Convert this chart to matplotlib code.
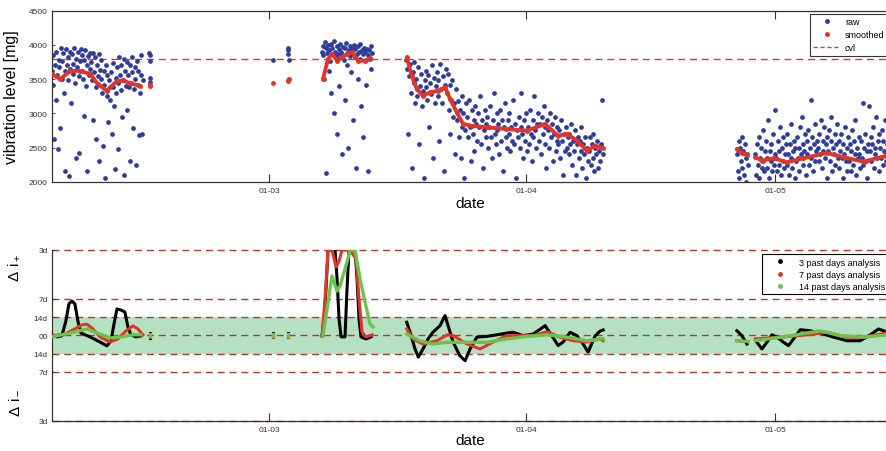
import numpy as np
import pandas as pd
import matplotlib
matplotlib.use('Agg')
import matplotlib.pyplot as plt
import matplotlib.dates as mdates
from matplotlib.lines import Line2D

plt.rcParams['font.family'] = ['Liberation Sans', 'DejaVu Sans']

# time axis: days counted from 01-03
day0 = '2013-03-01'
x_range = (-26.2, 77.5)

# raw vibration level [mg], evenly sampled within each recording span (days)
raw_spans = [(-26.2, -15.25), (-14.45, -14.35), (0.45, 0.45), (2.2, 2.35),
             (6.36, 12.39), (16.5, 40.2), (56.4, 57.7), (58.6, 75.0)]
raw_1 = [3620, 3850, 3420, 2620, 3710, 3900, 3200, 3560, 2480, 3780, 3680, 2780, 3950, 3500,
         3760, 3880, 3300, 3620, 2150, 3940, 3700, 3480, 3820, 2080, 3650, 3900, 3150,
         3860, 3580, 3720, 3960, 3450, 2340, 3800, 3680, 3900, 3540, 2420, 3760, 3940,
         3620, 3850, 3500, 2960, 3780, 3920, 3400, 3700, 2160, 3840, 3560, 3650, 3880,
         3750, 3480, 3880, 2900, 3600, 3820, 3380, 2620, 3700, 3540, 3860, 2300, 3640,
         3500, 3780, 3300, 2520, 3620, 3420, 2060, 3700, 3260, 3560, 2880, 3480, 3380,
         3200, 3600, 2700, 3380, 3740, 3100, 2180, 3520, 3300, 3680, 2480, 3450, 3820,
         3560, 3340, 3700, 2950, 3480, 3800, 2100, 3620, 3400, 3750, 3050, 3560, 3380,
         3700, 2300, 3450, 3820, 3600, 2780, 3350, 3680, 3500, 2240, 3760, 3420, 3620,
         2680, 3300, 3560, 3850, 2700, 3480]
raw_1b = [3880, 3850, 3760, 3520, 3460]
raw_2a = [3780]
raw_2b = [3960, 3920, 3870, 3780]
raw_3 = [3900, 3980, 3850, 3500, 4040, 3950, 2120, 3880, 4000, 3620, 3920, 3760, 4020, 3300,
         3960, 3870, 3000, 4050, 3900, 3820, 2700, 3980, 3860, 3940, 3400, 4010, 3900, 2400,
         3850, 3970, 3780, 3200, 3950, 4030, 3880, 3700, 2500, 3920, 3990, 3840, 3600, 3960,
         3880, 2900, 4000, 3820, 3940, 2200, 3870, 3980, 3500, 3900, 3800, 4020, 3100, 3930,
         3860, 2650, 3960, 3890, 3780, 3420, 3940, 3850, 2150, 3920, 3800, 3980, 3650, 3880]
raw_4 = [3780, 3650, 2700, 3540, 3720, 3300, 2200, 3600, 3450, 3750, 3150,
         3500, 3250, 3680, 2550, 3400, 3580, 3100, 3320, 2050, 3480, 3620,
         3380, 3200, 3560, 2800, 3450, 3280, 3700, 2350, 3520, 3150, 3400,
         3600, 3250, 3480, 2600, 3720, 3350, 3150, 3550, 2150, 3420, 3650,
         3300, 3580, 3050, 3420, 2700, 3200, 3480, 2950, 3150, 2400, 3350,
         2900, 3180, 2650, 3050, 2350, 3250, 2800, 3000, 2050, 2750, 3150,
         2950, 2650, 3200, 2800, 2300, 3050, 2700, 2900, 2450, 3100, 2850,
         2600, 3000, 2800, 3250, 2550, 2900, 2200, 2750, 3050, 2650, 2850,
         2950, 2500, 2800, 3100, 2650, 2350, 2900, 3300, 2700, 2550, 3000,
         2750, 2850, 2400, 3050, 2600, 2900, 2150, 2800, 3150, 2650, 2500,
         2900, 2700, 3000, 2450, 2800, 2600, 3200, 2550, 2850, 2050, 2750,
         2650, 2950, 2500, 2800, 3300, 2700, 2350, 2900, 2600, 3000, 2450,
         2800, 2550, 3050, 2700, 2300, 2900, 2650, 3250, 2750, 2500, 2850,
         3000, 2600, 2850, 2400, 2950, 2700, 3100, 2550, 2800, 2200, 2900,
         2750, 2500, 3000, 2650, 2850, 2300, 2700, 2950, 2450, 2600, 2800,
         2550, 2750, 2350, 2900, 2600, 2100, 2700, 2450, 2800, 2500, 2650,
         2400, 2700, 2550, 2850, 2250, 2600, 2450, 2750, 2100, 2550, 2650,
         2350, 2600, 2450, 2800, 2200, 2550, 2400, 2650, 2050, 2500, 2300,
         2450, 2650, 2250, 2550, 2350, 2700, 2150, 2500, 2400, 2600, 2200,
         2450, 2300, 2550, 3200, 2400]
raw_5 = [2400, 2150, 2600, 2050, 2500, 2300, 2650, 2200, 2450, 2100, 2550, 2350, 2000, 2400, 2250]
raw_6 = [2400, 2100, 2550, 2250, 2650, 2050, 2350, 2500, 2200, 2750, 2300, 2150, 2450,
         2600, 2200, 2350, 2900, 2050, 2450, 2300, 2550, 2150, 2700, 2250, 2400, 3050,
         2350, 2150, 2600, 2250, 2450, 2800, 2100, 2500, 2300, 2650, 2200, 2400, 2550,
         2250, 2700, 2400, 2100, 2550, 2350, 2850, 2200, 2450, 2600, 2050, 2500, 2300,
         2650, 2350, 2500, 2150, 2800, 2400, 2950, 2250, 2550, 2450, 2700, 2100, 2600,
         2400, 2750, 2250, 2500, 3200, 2350, 2650, 2150, 2550, 2850, 2300, 2450, 2600,
         2500, 2300, 2700, 2400, 2900, 2200, 2600, 2450, 2800, 2350, 2550, 2050, 2650,
         2450, 2750, 2300, 2600, 2950, 2150, 2500, 2400, 2700, 2250, 2550, 2850, 2350,
         2600, 2200, 2450, 2700, 2350, 2550, 2050, 2400, 2800, 2300, 2500, 2150, 2650,
         2300, 2550, 2150, 2450, 2750, 2250, 2600, 2400, 2900, 2100, 2500, 2350, 2650,
         2400, 2200, 2600, 2350, 3150, 2250, 2500, 2700, 2300, 2450, 2050, 2550, 3100,
         2450, 2650, 2300, 2550, 2800, 2200, 2500, 2400, 2950, 2350, 2600, 2150, 2700,
         2500, 2350, 2750, 2250, 2600, 2450, 2900, 2300, 2550, 2400, 2850, 2200, 2650, 2500, 2350]
raw_values = [raw_1, raw_1b, raw_2a, raw_2b, raw_3, raw_4, raw_5, raw_6]

# smoothed level [mg]
sm_days = [[-26.2, -25.2, -24.0, -22.8, -21.6, -20.7, -19.6, -18.4, -17.6, -16.8, -15.6],
           [-14.4, -14.35], [0.45], [2.25, 2.38],
           [6.47, 7.08, 7.56, 8.17, 8.77, 9.37, 9.98, 10.7, 11.5, 12.15],
           [16.57, 17.18, 17.78, 18.54, 19.39, 20.35, 21.2, 21.8, 22.6, 23.37, 24.4,
            26.2, 28.6, 31.05, 33.26, 34.8, 35.9, 37.1, 38.3, 39.3, 40.25],
           [56.38, 56.98, 57.59],
           [58.59, 59.4, 60.8, 62.4, 64.4, 67.24, 69.24, 71.65, 74.4, 75.1]]
sm_vals = [[3570, 3500, 3620, 3620, 3575, 3430, 3330, 3470, 3480, 3440, 3400],
           [3420, 3400], [3438], [3477, 3500],
           [3500, 3794, 3867, 3769, 3818, 3867, 3891, 3769, 3769, 3803],
           [3818, 3550, 3355, 3257, 3306, 3330, 3380, 3209, 3014, 2843, 2818,
            2795, 2770, 2746, 2843, 2673, 2697, 2600, 2453, 2527, 2490],
           [2478, 2420, 2390],
           [2358, 2308, 2343, 2283, 2343, 2420, 2358, 2293, 2380, 2380]]
cvl = 3800

# delta i (1/days) for 3, 7 and 14 past days analysis
d3_days = [[-26.21, -25.61, -25.01, -24.53, -24.16, -23.80, -23.44, -23.08, -22.71, -21.63, -20.42,
            -19.58, -19.09, -18.73, -18.37, -17.89, -17.41, -17.05, -16.69, -16.08, -15.48],
           [-14.4, -14.4], [0.45, 0.45], [2.3, 2.3],
           [6.36, 6.60, 6.84, 7.08, 7.93, 8.17, 8.41, 8.65, 9.13, 9.37, 9.61, 10.34, 10.58,
            10.82, 11.06, 11.66, 12.27],
           [16.57, 16.97, 17.57, 17.97, 18.54, 19.14, 19.75, 20.59, 21.19, 21.56, 22.16, 22.96,
            23.61, 24.21, 25.02, 26.22, 27.43, 28.64, 29.40, 30.60, 31.81, 33.26, 34.06, 34.83,
            35.43, 36.27, 37.08, 37.84, 38.44, 39.29, 39.89, 40.25],
           [56.38, 56.98, 57.59],
           [58.79, 59.40, 60.0, 60.60, 61.21, 62.0, 62.61, 63.21, 64.02, 65.22, 66.43, 68.03,
            69.65, 71.25, 72.46, 73.46, 74.39, 75.11]]
d3_vals = [[0.002, -0.006, -0.002, 0.056, 0.123, 0.134, 0.123, 0.056, 0.009, -0.006, -0.026,
            -0.041, -0.022, 0.044, 0.103, 0.099, 0.091, 0.033, 0.002, -0.006, -0.002],
           [0.01, -0.01], [0.008, -0.008], [0.008, -0.008],
           [-0.002, 0.064, 0.181, 0.333, 0.333, 0.220, 0.064, -0.006, -0.006, 0.181, 0.333,
            0.333, 0.220, 0.064, -0.006, -0.014, -0.006],
           [0.051, 0.013, -0.053, -0.085, -0.053, -0.014, 0.013, 0.038, 0.077, 0.038, -0.026,
            -0.079, -0.099, -0.053, -0.007, -0.004, 0.002, 0.009, 0.012, -0.001, 0.005, 0.038,
            -0.001, -0.040, -0.026, 0.012, -0.001, -0.034, -0.065, -0.002, 0.017, 0.021],
           [0.018, -0.001, -0.034],
           [-0.027, -0.053, -0.027, 0.002, -0.007, -0.027, -0.040, -0.014, 0.022, 0.018, 0.009,
            -0.007, -0.021, -0.021, 0.002, 0.025, 0.014, 0.013]]

d7_days = [[-26.21, -24.64, -23.44, -22.59, -21.99, -21.27, -20.42, -19.22, -18.25, -17.29,
            -16.44, -15.84, -15.24],
           [-14.4, -14.4], [0.45, 0.45], [2.3, 2.3],
           [6.36, 6.72, 7.08, 7.56, 8.05, 8.41, 8.77, 9.74, 10.46, 10.82, 11.18, 11.66, 12.39],
           [16.57, 17.33, 18.54, 20.23, 21.44, 22.16, 23.85, 25.42, 26.99, 28.67, 30.24, 31.81,
            33.50, 35.06, 36.63, 38.32, 39.89, 40.25],
           [56.38, 57.71],
           [58.59, 61.60, 64.82, 67.24, 69.65, 71.66, 74.39, 75.1]]
d7_vals = [[-0.002, 0.005, 0.025, 0.041, 0.044, 0.025, -0.006, -0.026, -0.014, 0.017, 0.037,
            0.025, 0.002],
           [0.006, -0.006], [0.006, -0.006], [0.006, -0.006],
           [-0.002, 0.142, 0.333, 0.333, 0.267, 0.290, 0.333, 0.333, 0.298, 0.142, 0.013,
            -0.006, 0.002],
           [0.025, -0.014, -0.034, -0.021, 0.002, -0.001, -0.034, -0.053, -0.026, -0.001,
            -0.001, -0.001, 0.014, -0.007, -0.021, -0.026, -0.014, -0.021],
           [-0.021, -0.024],
           [-0.014, -0.007, 0.002, 0.012, -0.007, -0.007, 0.009, 0.009]]

d14_days = [[-26.21, -24.04, -21.99, -20.42, -19.22, -17.77, -16.44, -15.48],
            [-14.4, -14.4], [0.45, 0.45], [2.3, 2.3],
            [6.47, 6.96, 7.56, 8.17, 8.53, 9.37, 9.74, 10.34, 10.94, 11.55, 12.15, 12.51],
            [16.57, 18.15, 19.75, 21.44, 23.85, 26.26, 28.67, 31.09, 33.50, 35.91, 38.32,
             39.89, 40.25],
            [56.38, 57.71],
            [58.59, 62.41, 66.43, 68.84, 71.66, 74.39, 75.1]]
d14_vals = [[-0.006, 0.009, 0.025, 0.005, -0.010, -0.006, 0.002, 0.002],
            [0.004, -0.004], [0.004, -0.004], [0.004, -0.004],
            [-0.002, 0.103, 0.232, 0.173, 0.193, 0.286, 0.333, 0.333, 0.220, 0.130, 0.044, 0.033],
            [0.005, -0.021, -0.034, -0.027, -0.027, -0.027, -0.014, -0.004, 0.002, -0.007,
             -0.021, -0.014, -0.014],
            [-0.021, -0.024],
            [-0.021, -0.004, 0.018, -0.001, -0.007, 0.002, 0.002]]

delta_ticks = [-1/3, -1/7, -1/14, 0, 1/14, 1/7, 1/3]
delta_ticklabels = ['3d', '7d', '14d', '00', '14d', '7d', '3d']

blue = '#2d3c9c'
red = '#e3342a'
dash_red = '#b23c2c'
band = '#b5e1c3'
green = '#6cc24a'

base = mdates.date2num(pd.Timestamp(day0))


def to_num(days):
    return base + np.asarray(days, dtype=float)


fig = plt.figure(figsize=(8.86, 4.52), dpi=100)
ax1 = fig.add_axes([0.0587, 0.5958, 0.9707, 0.3783])
ax2 = fig.add_axes([0.0587, 0.0670, 0.9707, 0.3777])

# ---- top: vibration level ----
for (t0, t1), vals in zip(raw_spans, raw_values):
    ts = np.linspace(t0, t1, len(vals))
    ax1.plot(to_num(ts), vals, '.', color=blue, ms=4.8, zorder=2)
for dd, vv in zip(sm_days, sm_vals):
    ax1.plot(to_num(dd), vv, '-', color=red, lw=2.8, marker='.', ms=5,
             solid_capstyle='round', zorder=3)
ax1.axhline(cvl, color=red, lw=1.0, ls=(0, (5, 3.5)), zorder=1)

ax1.set_ylim(2000, 4500)
ax1.set_yticks([2000, 2500, 3000, 3500, 4000, 4500])
ax1.set_ylabel('vibration level [mg]', fontsize=11.5)
ax1.yaxis.set_label_coords(-0.038, 0.5)

h_raw = Line2D([], [], ls='none', marker='.', color=blue, ms=5)
h_sm = Line2D([], [], ls='none', marker='.', color=red, ms=5)
h_cvl = Line2D([], [], ls=(0, (3, 2)), color=red, lw=1)
leg1 = ax1.legend([h_raw, h_sm, h_cvl], ['raw', 'smoothed', 'cvl'], loc='upper left',
                  bbox_to_anchor=(0.881, 0.983), fontsize=6.5, frameon=True, fancybox=False,
                  edgecolor='black', handlelength=3.0, handletextpad=0.5, borderpad=0.4,
                  labelspacing=0.45, borderaxespad=0)
leg1.get_frame().set_linewidth(0.8)

# ---- bottom: delta i ----
ax2.axhspan(-1/14, 1/14, color=band, zorder=0, lw=0)
for yv in delta_ticks:
    ax2.axhline(yv, color=dash_red, lw=1.0, ls=(0, (5, 3.5)), zorder=1, clip_on=False)
for dd, vv in zip(d3_days, d3_vals):
    ax2.plot(to_num(dd), vv, '-', color='black', lw=2.2, zorder=3)
for dd, vv in zip(d7_days, d7_vals):
    ax2.plot(to_num(dd), vv, '-', color=red, lw=2.2, zorder=4)
for dd, vv in zip(d14_days, d14_vals):
    ax2.plot(to_num(dd), vv, '-', color=green, lw=2.4, zorder=5)

ax2.set_ylim(-1/3, 1/3)
ax2.set_yticks(delta_ticks)
ax2.set_yticklabels(delta_ticklabels)
ax2.spines['top'].set_visible(False)

h3 = Line2D([], [], ls='none', marker='.', color='black', ms=5)
h7 = Line2D([], [], ls='none', marker='.', color=red, ms=5)
h14 = Line2D([], [], ls='none', marker='.', color=green, ms=5)
leg2 = ax2.legend([h3, h7, h14], ['3 past days analysis', '7 past days analysis',
                                  '14 past days analysis'],
                  loc='upper left', bbox_to_anchor=(0.826, 0.977), fontsize=6.5,
                  frameon=True, fancybox=False, edgecolor='black', handlelength=3.0,
                  handletextpad=0.6, borderpad=0.4, labelspacing=0.35, borderaxespad=0,
                  framealpha=1)
leg2.get_frame().set_linewidth(0.8)

fig.text(0.016, 0.407, r'$\mathregular{\Delta\ i_+}$', rotation=90, fontsize=11,
         ha='center', va='center')
fig.text(0.016, 0.108, r'$\mathregular{\Delta\ i_-}$', rotation=90, fontsize=11,
         ha='center', va='center')

for ax in (ax1, ax2):
    ax.set_xlim(to_num(x_range[0]), to_num(x_range[1]))
    ax.xaxis.set_major_locator(mdates.MonthLocator())
    ax.xaxis.set_major_formatter(mdates.DateFormatter('%d-%m'))
    ax.tick_params(axis='x', direction='in', length=6, width=0.8, top=(ax is ax1),
                   labelsize=6, colors='#333333', pad=4)
    ax.tick_params(axis='y', direction='in', length=2, width=0.6, labelsize=6,
                   colors='#333333', pad=3)
    ax.set_xlabel('date', fontsize=11)
    for s in ax.spines.values():
        s.set_linewidth(0.9)
        s.set_color('#333333')
ax1.xaxis.set_label_coords(0.486, -0.085)
ax2.xaxis.set_label_coords(0.486, -0.07)

fig.savefig('out.png', dpi=100)
